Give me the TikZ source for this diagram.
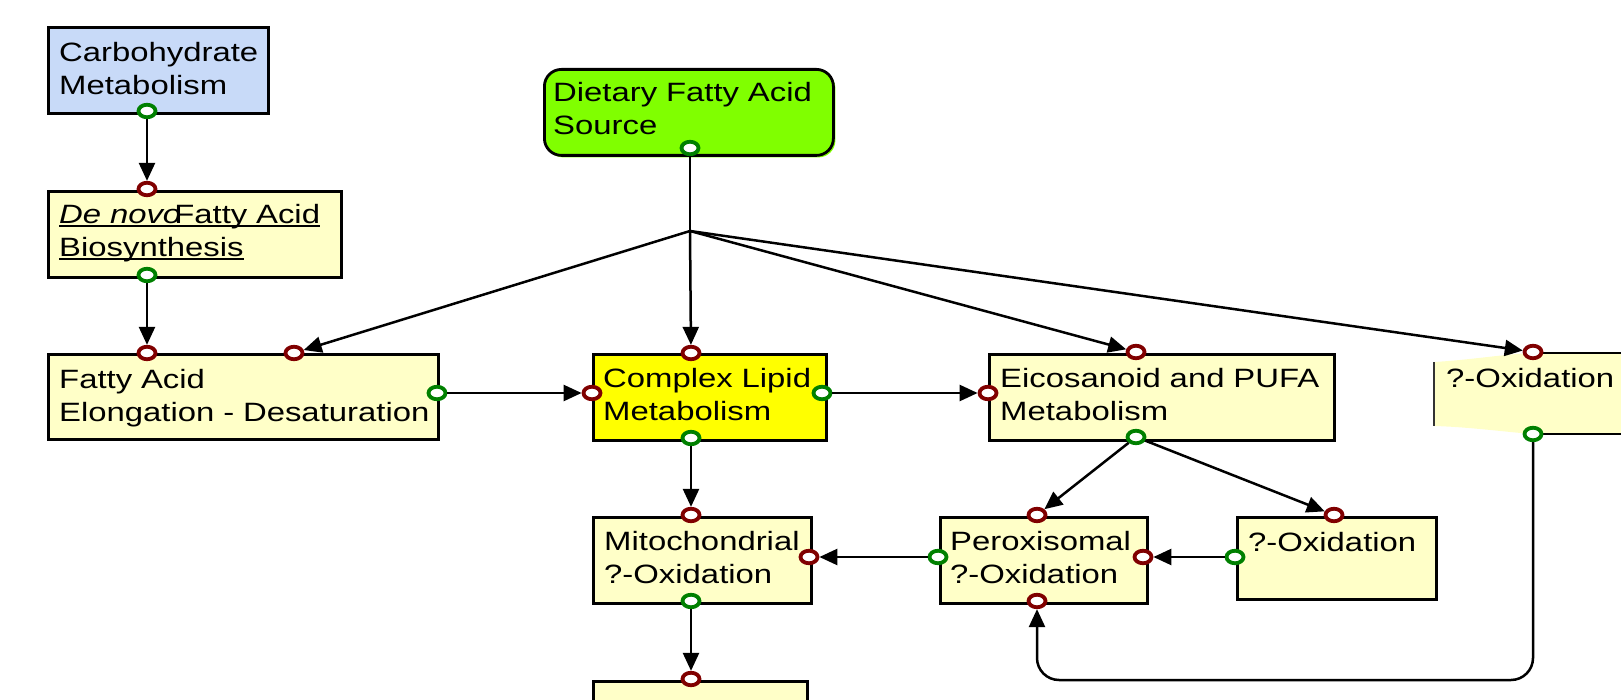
\documentclass[tikz,border=0pt]{standalone}
\usepackage{fontspec}
\setmainfont[FakeStretch=1.24]{Liberation Sans}
\usetikzlibrary{arrows.meta,shapes.geometric,shadows,calc}

\definecolor{boxyellow}{RGB}{255,255,200}
\definecolor{carbblue}{RGB}{200,218,248}
\definecolor{dietgreen}{RGB}{128,255,0}
\definecolor{lipidyellow}{RGB}{255,255,0}
\definecolor{portgreen}{RGB}{0,128,0}
\definecolor{portred}{RGB}{128,0,0}

% underline drawn at a fixed distance below the baseline
\newcommand\lineunder[1]{\leavevmode\setbox0\hbox{#1}\rlap{\rule[-3pt]{\wd0}{1.7pt}}\box0}

\tikzset{
  pbox/.style={rectangle, draw=black, line width=2.8pt, fill=#1, inner sep=0pt,
    anchor=north west,
    general shadow={fill=#1, shadow xshift=2pt, shadow yshift=-2pt}},
  lbl/.style={inner sep=0pt, anchor=base west, text width=420pt, align=left,
    font=\fontsize{26.5}{33}\selectfont},
  port/.style={ellipse, draw=#1, fill=white, line width=3.8pt, inner sep=0pt,
    minimum width=17pt, minimum height=12.5pt},
  inport/.style={port=portred},
  outport/.style={port=portgreen},
  conn/.style={draw=black, line width=2.5pt},
  flow/.style={conn, -{Triangle[length=18pt,width=16pt]}},
}

\begin{document}
\begin{tikzpicture}[x=1pt,y=-1pt]
\clip (0,0) rectangle (1621,700);

% ---- process boxes ----
\node[pbox=carbblue, minimum width=220pt, minimum height=86pt] (carb) at (47,26) {};
\node[pbox=boxyellow, minimum width=293pt, minimum height=86pt] (denovo) at (47,190) {};
\node[pbox=dietgreen, rounded corners=17pt, minimum width=289pt, minimum height=86pt] (diet) at (543,68) {};
\node[pbox=boxyellow, minimum width=390pt, minimum height=85pt] (elong) at (47,353) {};
\node[pbox=lipidyellow, minimum width=233pt, minimum height=86pt] (complex) at (592,353) {};
\node[pbox=boxyellow, minimum width=345pt, minimum height=86pt] (eico) at (988,353) {};
\node[pbox=boxyellow, minimum width=218pt, minimum height=86pt] (mito) at (592,516) {};
\node[pbox=boxyellow, minimum width=207pt, minimum height=86pt] (perox) at (939,516) {};
\node[pbox=boxyellow, minimum width=199pt, minimum height=82pt] (alpha) at (1236,516) {};
\node[pbox=boxyellow, minimum width=214pt, minimum height=86pt] (bottom) at (592,680) {};

% box at the right edge with its folded left side
\fill[boxyellow] (1434,362) .. controls (1470,360) and (1505,354) .. (1533,353)
  -- (1630,353) -- (1630,434) -- (1533,434)
  .. controls (1505,432) and (1470,427) .. (1434,426) -- cycle;
\draw[line width=2.4pt, black!80] (1434,362) -- (1434,426);
\draw[line width=2.8pt] (1533,353) -- (1630,353);
\draw[line width=2.8pt] (1533,434) -- (1630,434);

% ---- labels ----
\node[lbl] (carb-t) at (59,62) {Carbohydrate\\Metabolism};
\node[lbl] (denovo-t) at (59,224) {\lineunder{\textit{De novo}\kern-7pt Fatty Acid}\\\lineunder{Biosynthesis}};
\node[lbl] (diet-t) at (553,102) {Dietary Fatty Acid\\Source};
\node[lbl] (elong-t) at (59,388) {Fatty Acid\\Elongation - Desaturation};
\node[lbl] (complex-t) at (603,387) {Complex Lipid\\Metabolism};
\node[lbl] (eico-t) at (1000,387) {Eicosanoid and PUFA\\Metabolism};
\node[lbl] (beta-t) at (1446,387) {?-Oxidation};
\node[lbl] (mito-t) at (604,550) {Mitochondrial\\?-Oxidation};
\node[lbl] (perox-t) at (950,550) {Peroxisomal\\?-Oxidation};
\node[lbl] (alpha-t) at (1248,551) {?-Oxidation};

% ---- ports ----
\coordinate (jn) at (690,231);
\coordinate (loop) at (1037,680);

\node[outport] (carb-o) at (147,111) {};
\node[inport] (denovo-i) at (147,189) {};
\node[outport] (denovo-o) at (147,275) {};
\node[outport] (diet-o) at (690,148) {};
\node[inport] (elong-i) at (147,353) {};
\node[inport] (elong-i2) at (294,353) {};
\node[outport] (elong-o) at (437,393) {};
\node[inport] (complex-i) at (691,353) {};
\node[inport] (complex-l) at (592,393) {};
\node[outport] (complex-r) at (822,393) {};
\node[outport] (complex-o) at (691,438) {};
\node[inport] (eico-i) at (1136,352) {};
\node[inport] (eico-l) at (988,393) {};
\node[outport] (eico-o) at (1136,437) {};
\node[inport] (beta-i) at (1533,352) {};
\node[outport] (beta-o) at (1533,434) {};
\node[inport] (mito-i) at (691,515) {};
\node[inport] (mito-r) at (809,557) {};
\node[outport] (mito-o) at (691,601) {};
\node[inport] (perox-i) at (1037,515) {};
\node[outport] (perox-l) at (938,557) {};
\node[inport] (perox-r) at (1143,557) {};
\node[inport] (perox-b) at (1037,601) {};
\node[inport] (alpha-i) at (1334,515) {};
\node[outport] (alpha-l) at (1235,557) {};
\node[inport] (bottom-i) at (691,679) {};

% ---- connectors ----
\draw[flow] (carb-o) -- (denovo-i);
\draw[flow] (denovo-o) -- (elong-i);
\draw[conn] (diet-o) -- (jn);
\draw[flow] (jn) -- (elong-i2);
\draw[flow] (jn) -- (complex-i);
\draw[flow] (jn) -- (eico-i);
\draw[flow] (jn) -- (beta-i);
\draw[flow] (elong-o) -- (complex-l);
\draw[flow] (complex-r) -- (eico-l);
\draw[flow] (complex-o) -- (mito-i);
\draw[flow] (eico-o) -- (perox-i);
\draw[flow] (eico-o) -- (alpha-i);
\draw[flow] (perox-l) -- (mito-r);
\draw[flow] (alpha-l) -- (perox-r);
\draw[flow] (mito-o) -- (bottom-i);
\draw[flow, rounded corners=22pt] (beta-o) |- (loop) -- (perox-b);
\end{tikzpicture}
\end{document}
